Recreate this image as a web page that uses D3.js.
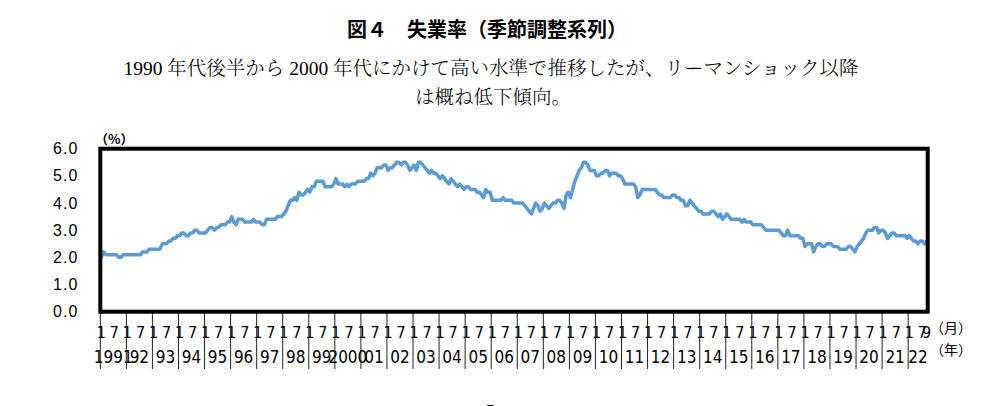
<!DOCTYPE html>
<html><head><meta charset="utf-8">
<script src="https://cdn.jsdelivr.net/npm/d3@7/dist/d3.min.js"></script>
<style>
html,body{margin:0;padding:0;background:#fff;}
svg{display:block;}
</style></head>
<body>
<svg id="chart" width="992" height="406"></svg>
<script>
// ---- data: seasonally adjusted unemployment rate (%), monthly, Jan 1991 – Sep 2022 ----
const startYear = 1991;
const y1991 = [2.0,2.2,2.1,2.1,2.1,2.1,2.1,2.1,2.0,2.0,2.1,2.1];
const y1992 = [2.1,2.1,2.1,2.1,2.1,2.1,2.1,2.2,2.2,2.2,2.3,2.3];
const y1993 = [2.3,2.3,2.3,2.3,2.5,2.5,2.5,2.6,2.6,2.7,2.7,2.8];
const y1994 = [2.8,2.9,2.9,2.8,2.8,2.9,2.9,3.0,3.0,2.9,2.9,2.9];
const y1995 = [2.9,3.0,3.1,3.1,3.0,3.1,3.1,3.2,3.2,3.2,3.3,3.3];
const y1996 = [3.5,3.3,3.2,3.4,3.4,3.4,3.3,3.3,3.3,3.3,3.4,3.3];
const y1997 = [3.3,3.3,3.2,3.2,3.4,3.4,3.4,3.4,3.4,3.5,3.5,3.5];
const y1998 = [3.6,3.7,3.9,4.1,4.1,4.2,4.1,4.4,4.3,4.3,4.4,4.5];
const y1999 = [4.4,4.6,4.6,4.8,4.8,4.8,4.8,4.6,4.6,4.6,4.6,4.7];
const y2000 = [4.9,4.7,4.7,4.7,4.6,4.7,4.6,4.7,4.7,4.7,4.8,4.8];
const y2001 = [4.8,4.8,4.9,4.9,5.1,5.0,5.1,5.3,5.3,5.3,5.4,5.4];
const y2002 = [5.2,5.3,5.3,5.4,5.5,5.5,5.4,5.5,5.5,5.4,5.2,5.3];
const y2003 = [5.4,5.2,5.5,5.5,5.4,5.3,5.2,5.1,5.2,5.1,5.1,5.0];
const y2004 = [4.9,5.0,4.9,4.8,4.7,4.9,4.8,4.7,4.6,4.7,4.6,4.5];
const y2005 = [4.6,4.6,4.5,4.5,4.5,4.4,4.4,4.3,4.2,4.5,4.4,4.4];
const y2006 = [4.1,4.1,4.1,4.1,4.1,4.2,4.1,4.1,4.1,4.1,4.0,4.0];
const y2007 = [4.0,4.0,4.0,3.9,3.8,3.7,3.6,3.8,4.0,3.9,3.7,3.8];
const y2008 = [4.0,3.9,3.8,3.9,4.0,4.0,4.1,4.1,4.0,3.8,4.3,4.4];
const y2009 = [4.2,4.5,4.8,5.0,5.2,5.3,5.5,5.5,5.4,5.2,5.2,5.2];
const y2010 = [5.0,5.0,5.1,5.1,5.2,5.2,5.0,5.1,5.1,5.1,5.0,5.0];
const y2011 = [4.9,4.7,4.7,4.7,4.7,4.7,4.6,4.2,4.3,4.5,4.5,4.5];
const y2012 = [4.5,4.5,4.5,4.5,4.4,4.3,4.3,4.2,4.2,4.2,4.2,4.3];
const y2013 = [4.3,4.2,4.2,4.1,4.1,3.9,3.9,4.1,4.0,3.9,3.8,3.7];
const y2014 = [3.7,3.6,3.6,3.6,3.6,3.7,3.7,3.6,3.5,3.6,3.4,3.5];
const y2015 = [3.6,3.5,3.4,3.4,3.4,3.4,3.4,3.3,3.4,3.3,3.3,3.3];
const y2016 = [3.2,3.2,3.2,3.2,3.2,3.1,3.0,3.0,3.0,3.0,3.0,3.0];
const y2017 = [3.0,2.9,2.8,2.8,3.0,2.8,2.8,2.8,2.8,2.8,2.7,2.7];
const y2018 = [2.4,2.5,2.5,2.5,2.2,2.4,2.5,2.5,2.4,2.4,2.5,2.5];
const y2019 = [2.5,2.4,2.4,2.4,2.3,2.3,2.3,2.3,2.4,2.4,2.3,2.2];
const y2020 = [2.4,2.5,2.6,2.7,2.9,3.0,3.0,3.0,3.1,3.1,2.9,3.0];
const y2021 = [3.0,2.9,2.7,2.8,2.9,2.9,2.8,2.8,2.8,2.8,2.8,2.7];
const y2022 = [2.8,2.7,2.6,2.6,2.5,2.6,2.6,2.5,2.6];

const yearlySeries = [y1991,y1992,y1993,y1994,y1995,y1996,y1997,y1998,y1999,y2000,
  y2001,y2002,y2003,y2004,y2005,y2006,y2007,y2008,y2009,y2010,
  y2011,y2012,y2013,y2014,y2015,y2016,y2017,y2018,y2019,y2020,y2021,y2022];

const yearLabels = ["1991","92","93","94","95","96","97","98","99","2000",
  "01","02","03","04","05","06","07","08","09","10",
  "11","12","13","14","15","16","17","18","19","20","21","22"];
const yTicks = [0,1,2,3,4,5,6];
const monthLabelMonths = [1,7];

const titleText = "図４　失業率（季節調整系列）";
const subLine1 = "1990 年代後半から 2000 年代にかけて高い水準で推移したが、リーマンショック以降";
const subLine2 = "は概ね低下傾向。";

// ---- build flat monthly table ----
const rows = [];
yearlySeries.forEach((arr, yi) => arr.forEach((v, mi) => rows.push({i: rows.length, year: startYear + yi, month: mi + 1, v})));
const lastRow = rows[rows.length - 1];

const svg = d3.select("#chart");
const L = 100.3, R = 927.7, T = 148.7, B = 311.7;

const x = d3.scaleBand().domain(rows.map(d => d.i)).range([L, R]).paddingInner(0).paddingOuter(0);
const bw = x.bandwidth();
const cx = i => x(i) + bw / 2;
const y = d3.scaleLinear().domain([0, 6]).range([B, T]);

// titles
svg.append("text").attr("x", 487).attr("y", 37).attr("text-anchor", "middle")
  .attr("font-family", "'Noto Sans CJK JP', sans-serif").attr("font-weight", "bold")
  .attr("font-size", 20).attr("fill", "#000").text(titleText);
const serif = "'Liberation Serif', 'Noto Serif CJK JP', 'Noto Sans CJK JP', serif";
svg.append("text").attr("x", 491).attr("y", 75).attr("text-anchor", "middle")
  .attr("font-family", serif).attr("font-weight", 300)
  .attr("font-size", 19.5).attr("fill", "#000").text(subLine1);
svg.append("text").attr("x", 493).attr("y", 104).attr("text-anchor", "middle")
  .attr("font-family", serif).attr("font-weight", 300)
  .attr("font-size", 19.5).attr("fill", "#000").text(subLine2);

// unit label
svg.append("text").attr("x", 95).attr("y", 144)
  .attr("font-family", "'Noto Sans CJK JP', sans-serif").attr("font-weight", "bold")
  .attr("font-size", 13).attr("fill", "#000").text("（%）");

// y axis labels
const yAxis = d3.axisLeft(y).tickValues(yTicks).tickSize(0).tickPadding(22).tickFormat(d3.format(".1f"));
const gy = svg.append("g").attr("transform", `translate(${L},0)`).call(yAxis);
gy.select(".domain").remove();
gy.selectAll("text").attr("font-family", "'Liberation Sans', Arial, sans-serif")
  .attr("font-size", 16).attr("letter-spacing", "1px").attr("fill", "#000");

// year separator lines below the plot
const yearStarts = d3.range(yearlySeries.length).map(k => k * 12);
svg.append("g").selectAll("line").data(yearStarts).join("line")
  .attr("x1", d => x(d)).attr("x2", d => x(d))
  .attr("y1", B).attr("y2", 369)
  .attr("stroke", "#222").attr("stroke-width", 1);

// month labels (1 and 7, plus final month)
const monthTickIdx = rows.filter(d => monthLabelMonths.includes(d.month) || d.i === lastRow.i).map(d => d.i);
const xAxisM = d3.axisBottom(x).tickValues(monthTickIdx).tickSize(0).tickPadding(0)
  .tickFormat(i => String(rows[i].month));
const gm = svg.append("g").attr("transform", `translate(0,${B})`).call(xAxisM);
gm.select(".domain").remove();
gm.selectAll("text").attr("dy", null).attr("y", 26)
  .attr("font-family", "'Liberation Sans Narrow', 'DejaVu Sans Condensed', sans-serif")
  .attr("font-size", 16).attr("fill", "#000");

// year labels centred in each year group
const yearCenters = yearlySeries.map((arr, k) => ({k, c: (x(k * 12) + x(k * 12 + arr.length - 1) + bw) / 2}));
svg.append("g").selectAll("text").data(yearCenters).join("text")
  .attr("x", d => d.c).attr("y", 363).attr("text-anchor", "middle")
  .attr("font-family", "'Liberation Sans Narrow', 'DejaVu Sans Condensed', sans-serif")
  .attr("font-size", 17).attr("fill", "#000").text(d => yearLabels[d.k]);

// unit labels on the right
svg.append("text").attr("x", 930).attr("y", 333)
  .attr("font-family", "'Noto Sans CJK JP', sans-serif").attr("font-size", 14).attr("fill", "#000").text("（月）");
svg.append("text").attr("x", 930).attr("y", 355)
  .attr("font-family", "'Noto Sans CJK JP', sans-serif").attr("font-size", 14).attr("fill", "#000").text("（年）");

// line
const line = d3.line().x(d => cx(d.i)).y(d => y(d.v));
svg.append("path").datum(rows).attr("d", line)
  .attr("fill", "none").attr("stroke", "#5B9BD5").attr("stroke-width", 3.5)
  .attr("stroke-linejoin", "round").attr("stroke-linecap", "round");

// plot frame
svg.append("rect").attr("x", L).attr("y", T).attr("width", R - L).attr("height", B - T)
  .attr("fill", "none").attr("stroke", "#000").attr("stroke-width", 4);

// page number (cut off at the bottom)
svg.append("text").attr("x", 490).attr("y", 416).attr("text-anchor", "middle")
  .attr("font-family", "'Liberation Serif', serif").attr("font-size", 16).attr("fill", "#000").text("7");
</script>
</body></html>
